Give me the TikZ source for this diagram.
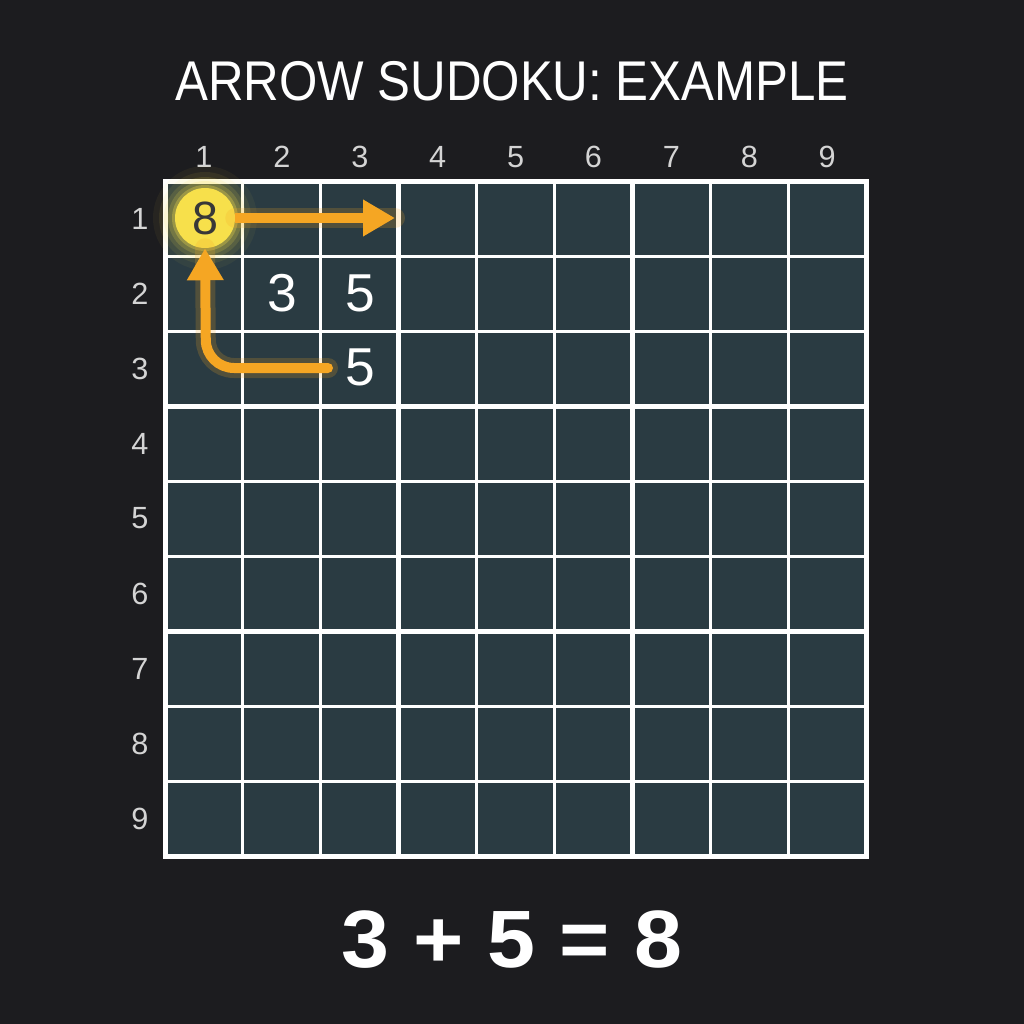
\documentclass[tikz,border=0pt]{standalone}
\usepackage{fontspec}
\setmainfont{Liberation Sans}
\usetikzlibrary{arrows.meta}

\definecolor{bgdark}{HTML}{1C1C1F}
\definecolor{cellfill}{HTML}{2A3B42}
\definecolor{arroworange}{HTML}{F5A623}
\definecolor{sumyellow}{HTML}{F7E04B}
\definecolor{labelgray}{HTML}{D4D4D4}
\definecolor{sumtext}{HTML}{383838}

\begin{document}
\begin{tikzpicture}[x=0.75pt,y=0.75pt,yscale=-1,xscale=1,
  axislabel/.style={text=labelgray,inner sep=0pt,font=\fontsize{23}{25}\selectfont},
  given/.style={text=white,inner sep=0pt,font=\fontsize{40}{42}\selectfont},
  arrowline/.style={draw=arroworange,line width=7.5pt,-{Triangle[length=24pt,width=26pt]}},
  arrowglow/.style={draw=arroworange,line width=15pt,opacity=0.2}]
%set diagram to the full 1024 x 1024 square
\useasboundingbox (0,0) rectangle (1024,1024);
\fill [bgdark] (0,0) rectangle (1024,1024);

% Title
\node [anchor=base,inner sep=0pt,text=white,xscale=0.88,font=\fontsize{42}{44}\selectfont] (title) at (512,100) {ARROW SUDOKU: EXAMPLE};

%Shape: Grid 9x9
\fill [cellfill] (165,181) rectangle (866,856);
\foreach \i in {1,2,4,5,7,8}{
  \draw [white,line width=2.25pt] ({165+77.9*\i},181) -- ({165+77.9*\i},856);
  \draw [white,line width=2.25pt] (165,{181+75*\i}) -- (866,{181+75*\i});
}
\foreach \i in {3,6}{
  \draw [white,line width=3.75pt] ({165+77.9*\i},181) -- ({165+77.9*\i},856);
  \draw [white,line width=3.75pt] (165,{181+75*\i}) -- (866,{181+75*\i});
}
\draw [white,line width=3.75pt] (165,181) rectangle (866,856);

% Column and row numbers
\foreach \i in {1,...,9}{
  \node [axislabel] (col\i) at ({204+77.9*(\i-1)},157) {\i};
  \node [axislabel] (row\i) at (140,{218.5+75*(\i-1)}) {\i};
}

% Glow round the sum cell
\foreach \r/\o in {52/0.05,46/0.08,41/0.12,37/0.18,33/0.3}
  \fill [sumyellow,opacity=\o] (205,218) circle (\r);

% Sum circle and given digits
\node [circle,fill=sumyellow,minimum size=45pt,inner sep=0pt,text=sumtext,font=\fontsize{35}{37}\selectfont] (sum) at (205,218) {8};
\node [given] (three) at (282,293) {3};
\node [given] (fiveA) at (360,293) {5};
\node [given] (fiveB) at (360,367) {5};

\coordinate (tipright) at (395,218);
\coordinate (tailstart) at (328,368);
\coordinate (bend) at (206,368);

%Arrows
\draw [arrowglow,line cap=round] (sum.east) -- (tipright);
\draw [arrowglow,line cap=round,rounded corners=21pt] (tailstart) -- (bend) -- (sum.south);
\draw [arrowline] (sum.east) -- (tipright);
\draw [arrowline,line cap=round,rounded corners=21pt] (tailstart) -- (bend) -- (sum.south);

% Equation
\node [text=white,inner sep=0pt,xscale=1.06,font=\bfseries\fontsize{61}{63}\selectfont] (equation) at (512,940) {3 + 5 = 8};
\end{tikzpicture}
\end{document}
